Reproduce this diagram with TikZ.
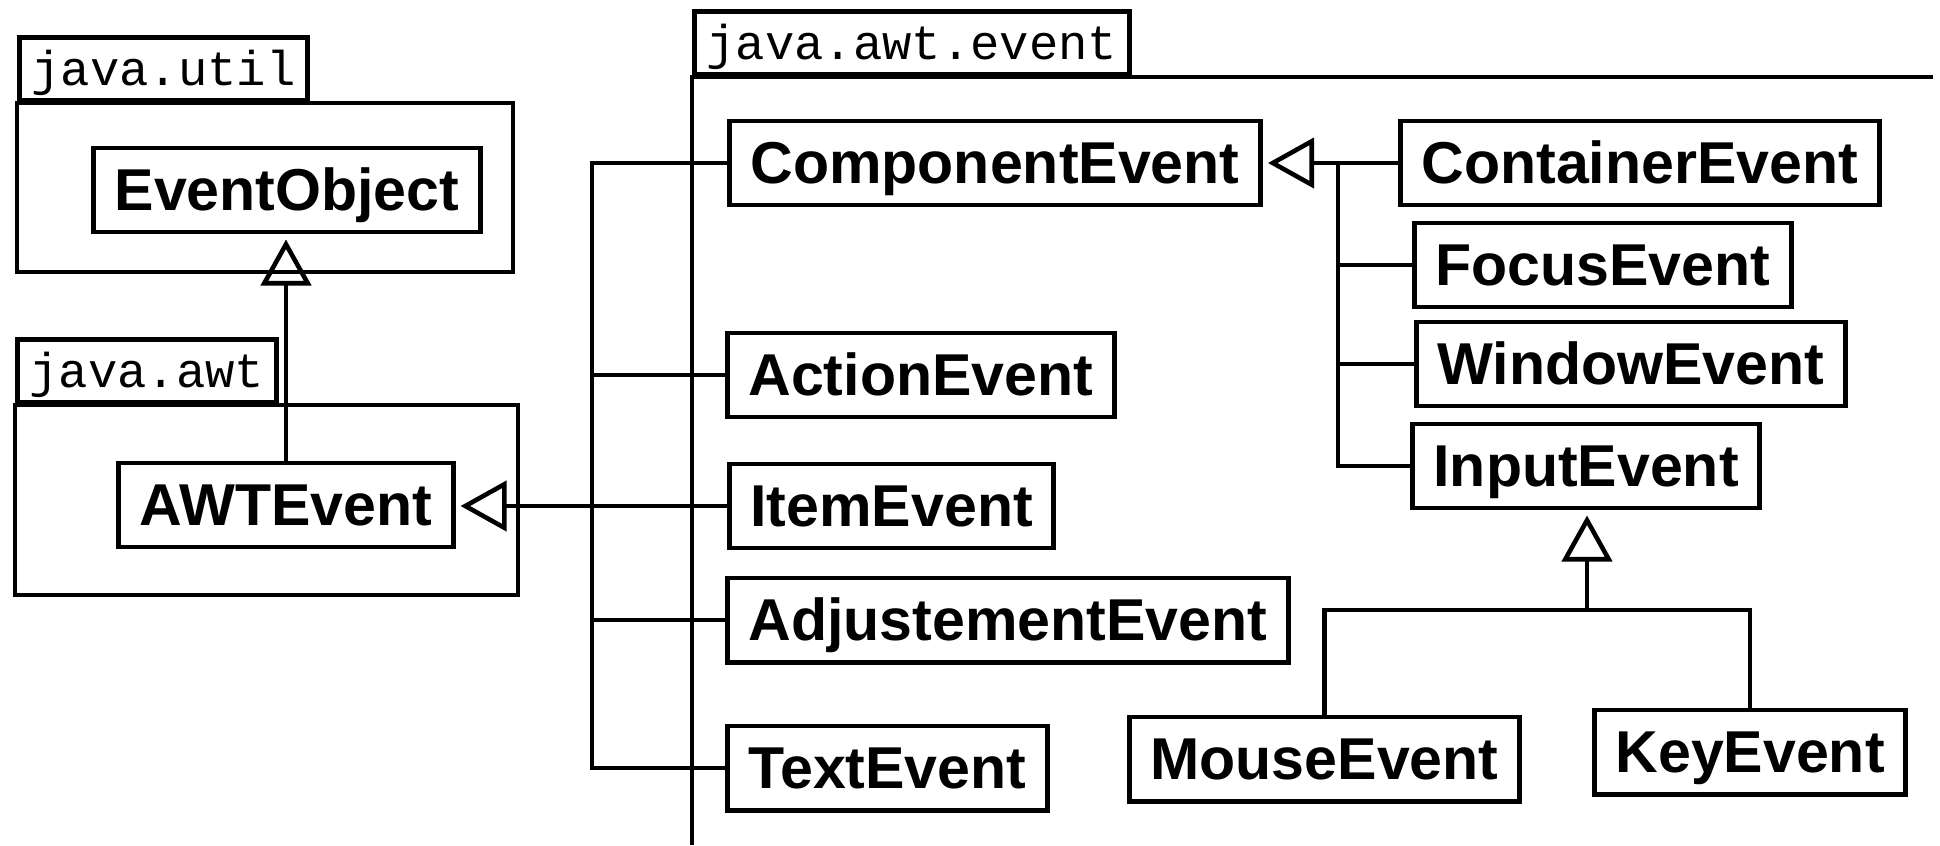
\documentclass[tikz,border=0pt]{standalone}
\usepackage{fontspec}
\setmainfont{Liberation Sans}
\setmonofont{Liberation Mono}
\usetikzlibrary{arrows.meta}

\begin{document}
\begin{tikzpicture}[x=0.01cm, y=-0.01cm,
  classe/.style={draw, line width=1.4pt, font=\fontsize{16.8}{20}\selectfont\bfseries,
    inner xsep=0.21cm, minimum height=0.84cm, text height=12.2pt, text depth=0.6pt},
  pacote/.style={draw, line width=1.4pt, font=\fontsize{13.9}{16}\selectfont\ttfamily,
    inner xsep=0.12cm, minimum height=0.63cm, text height=10pt, text depth=0.5pt, anchor=south west},
  heranca/.style={-{Triangle[open, length=0.46cm, width=0.5cm]}, line width=1.3pt, shorten >=0.05cm},
  ligacao/.style={line width=1.3pt}]
\useasboundingbox (0,0) rectangle (1940,845);

% pacotes
\node[pacote] (util) at (17,103) {java.util};
\draw[line width=1.4pt] (util.south west) rectangle (513,272);
\node[pacote] (awtpkg) at (15,405) {java.awt};
\draw[line width=1.4pt] (awtpkg.south west) rectangle (518,595);
\node[pacote] (eventpkg) at (692,77) {java.awt.event};
\draw[line width=1.4pt] (1933,77) -- (eventpkg.south west) -- (692,845);

% classes
\node[classe] (eventobj) at (287,190) {EventObject};
\node[classe] (awt) at (286,505) {AWTEvent};
\node[classe, anchor=west] (component) at (727,163) {ComponentEvent};
\node[classe, anchor=west] (action) at (725,375) {ActionEvent};
\node[classe, anchor=west] (item) at (727,506) {ItemEvent};
\node[classe, anchor=west] (adjust) at (725,620) {AdjustementEvent};
\node[classe, anchor=west] (text) at (725,768) {TextEvent};
\node[classe, anchor=west] (container) at (1398,163) {ContainerEvent};
\node[classe, anchor=west] (focus) at (1412,265) {FocusEvent};
\node[classe, anchor=west] (window) at (1414,364) {WindowEvent};
\node[classe, anchor=west] (input) at (1410,466) {InputEvent};
\node[classe, anchor=west] (mouse) at (1127,759) {MouseEvent};
\node[classe, anchor=west] (key) at (1592,752) {KeyEvent};

% heranca de EventObject
\draw[heranca] (awt.north) -- (awt.north |- eventobj.south);

% eventos de java.awt.event para AWTEvent
\draw[heranca] (item.west) -- (item.west -| awt.east);
\coordinate (barra) at (592,0);
\draw[ligacao] (component.west) -- (component.west -| barra) |- (text.west);
\draw[ligacao] (action.west) -- (action.west -| barra);
\draw[ligacao] (adjust.west) -- (adjust.west -| barra);

% subclasses de ComponentEvent
\draw[heranca] (container.west) -- (container.west -| component.east);
\coordinate (barra2) at (1338,0);
\draw[ligacao] (container.west -| barra2) |- (input.west);
\draw[ligacao] (focus.west) -- (focus.west -| barra2);
\draw[ligacao] (window.west) -- (window.west -| barra2);

% subclasses de InputEvent
\coordinate (juncao) at (1587,610);
\draw[heranca] (juncao) -- (juncao |- input.south);
\draw[ligacao] (mouse.north) |- (juncao) -| (key.north);
\end{tikzpicture}
\end{document}
